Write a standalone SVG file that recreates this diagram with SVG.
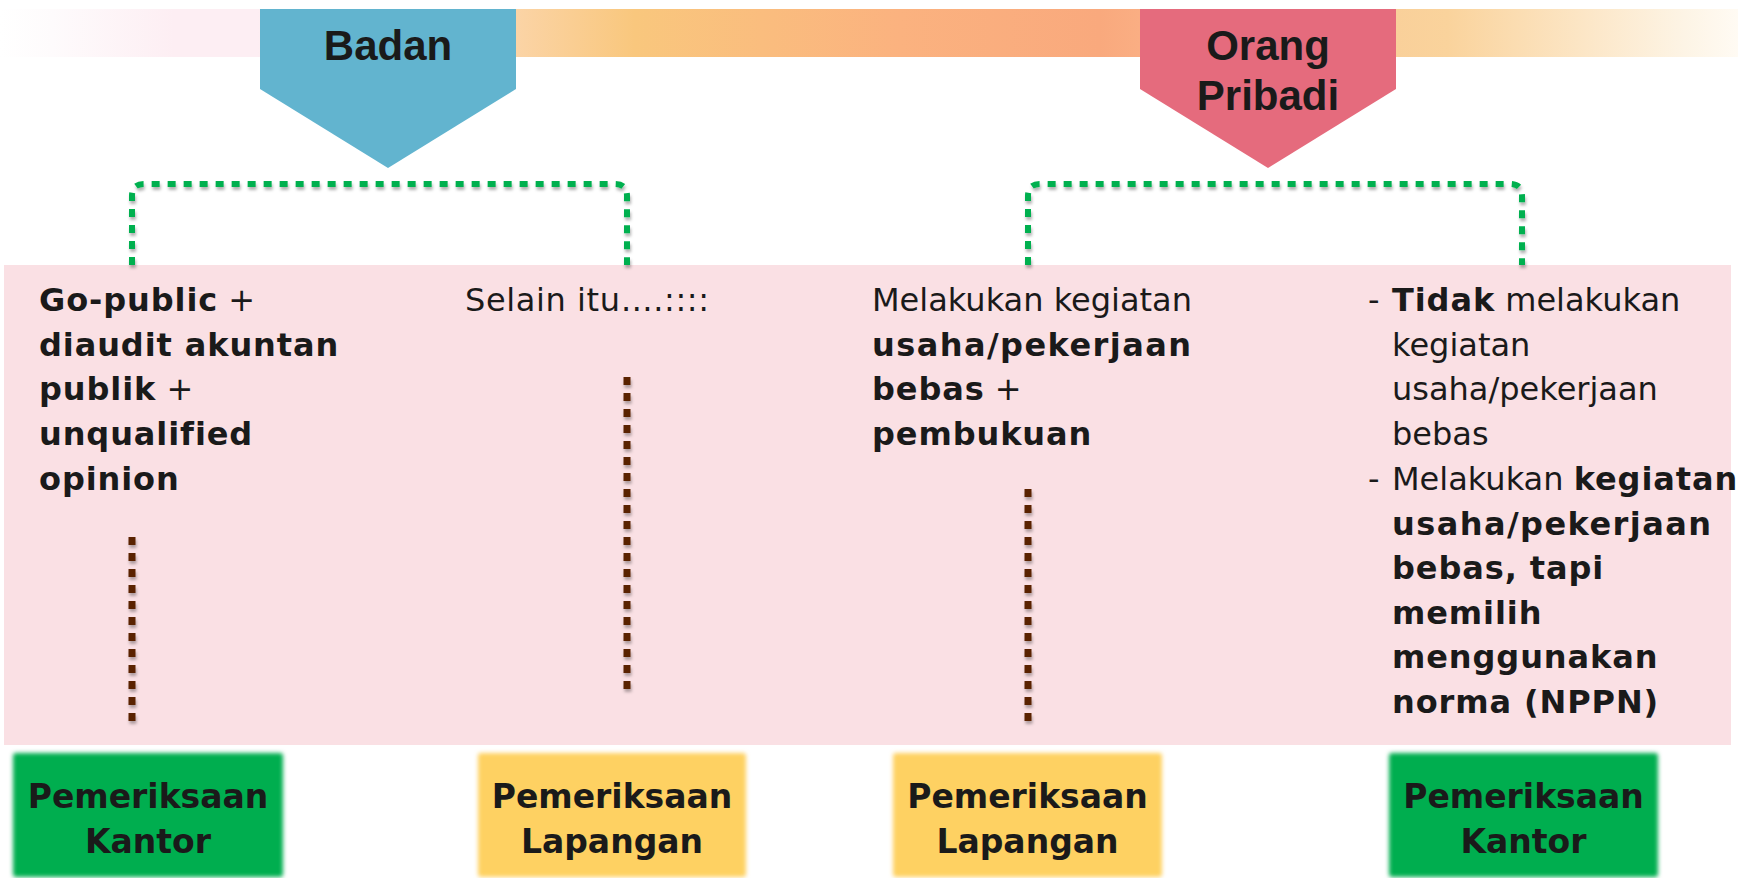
<svg xmlns="http://www.w3.org/2000/svg" width="1752" height="878" viewBox="0 0 1752 878">
  <defs>
    <linearGradient id="barGrad" gradientUnits="userSpaceOnUse" x1="0" y1="0" x2="1740" y2="0">
      <stop offset="0" stop-color="#ffffff"/>
      <stop offset="0.03" stop-color="#fefbfc"/>
      <stop offset="0.1" stop-color="#fdeef3"/>
      <stop offset="0.148" stop-color="#fdeef3"/>
      <stop offset="0.2966" stop-color="#fbd4a6"/>
      <stop offset="0.365" stop-color="#f9c77d"/>
      <stop offset="0.517" stop-color="#fbb27f"/>
      <stop offset="0.632" stop-color="#f9a97d"/>
      <stop offset="0.655" stop-color="#faae83"/>
      <stop offset="0.802" stop-color="#f9d09a"/>
      <stop offset="0.832" stop-color="#fad39c"/>
      <stop offset="0.91" stop-color="#fce6c6"/>
      <stop offset="0.968" stop-color="#fdf4e5"/>
      <stop offset="1" stop-color="#fffbf4"/>
    </linearGradient>
    <!-- user-space region so that straight vertical lines still get a shadow -->
    <filter id="lineShadow" filterUnits="userSpaceOnUse" x="0" y="0" width="1752" height="878">
      <feDropShadow dx="1" dy="3" stdDeviation="1.5" flood-color="#000000" flood-opacity="0.3"/>
    </filter>
    <filter id="softEdge" x="-5%" y="-5%" width="110%" height="110%">
      <feGaussianBlur stdDeviation="2"/>
    </filter>
  </defs>
  <style>
    .title { font-family: "Liberation Sans", Arial, sans-serif; font-weight: bold; font-size: 42px; fill: #1a1a1a; text-anchor: middle; }
    .body { font-family: "DejaVu Sans", Verdana, sans-serif; font-size: 32px; fill: #1a1a1a; }
    .b { font-weight: bold; letter-spacing: 0.9px; }
    .boxText { font-family: "DejaVu Sans", Verdana, sans-serif; font-weight: bold; font-size: 33px; fill: #1a1a1a; text-anchor: middle; }
    .green { stroke: #00b050; stroke-width: 6; fill: none; stroke-dasharray: 8 8; }
    .brown { stroke: #5a2300; stroke-width: 7; fill: none; stroke-dasharray: 8 8; }
    .kantor { fill: #00ae4f; }
    .lapangan { fill: #fed162; }
  </style>

  <!-- header band -->
  <rect id="band" x="0" y="9" width="1738" height="48" fill="url(#barGrad)"/>

  <!-- content panel -->
  <rect id="panel" x="4" y="265" width="1727" height="480" fill="#fae0e4"/>

  <g id="node-badan">
    <polygon points="260,9 516,9 516,89 388,168 260,89" fill="#62b4cf"/>
    <text class="title" x="388" y="60">Badan</text>
  </g>

  <g id="node-orang-pribadi">
    <polygon points="1140,9 1396,9 1396,89 1268,168 1140,89" fill="#e56b7d"/>
    <text class="title" x="1268" y="60">Orang</text>
    <text class="title" x="1268" y="110">Pribadi</text>
  </g>

  <g id="connectors">
    <path class="green" filter="url(#lineShadow)" d="M132,265 V196 Q132,184 144,184 H615 Q627,184 627,196 V265"/>
    <path class="green" filter="url(#lineShadow)" d="M1028,265 V196 Q1028,184 1040,184 H1510 Q1522,184 1522,196 V265"/>
    <line class="brown" filter="url(#lineShadow)" x1="132" y1="537" x2="132" y2="724"/>
    <line class="brown" filter="url(#lineShadow)" x1="627" y1="377" x2="627" y2="690"/>
    <line class="brown" filter="url(#lineShadow)" x1="1028" y1="489" x2="1028" y2="724"/>
  </g>

  <g id="node-criteria-gopublic">
    <text class="body" x="39" y="311"><tspan class="b">Go-public</tspan> +</text>
    <text class="body b" x="39" y="356">diaudit akuntan</text>
    <text class="body" x="39" y="400"><tspan class="b">publik</tspan> +</text>
    <text class="body b" x="39" y="445">unqualified</text>
    <text class="body b" x="39" y="490">opinion</text>
  </g>

  <g id="node-criteria-lainnya">
    <text class="body" x="465" y="311" textLength="244" lengthAdjust="spacing">Selain itu….::::</text>
  </g>

  <g id="node-criteria-pembukuan">
    <text class="body" x="872" y="311">Melakukan kegiatan</text>
    <text class="body b" x="872" y="356" textLength="320" lengthAdjust="spacing">usaha/pekerjaan</text>
    <text class="body" x="872" y="400"><tspan class="b">bebas</tspan> +</text>
    <text class="body b" x="872" y="445">pembukuan</text>
  </g>

  <g id="node-criteria-norma">
    <text class="body" x="1368" y="311">-</text>
    <text class="body" x="1392" y="311"><tspan class="b">Tidak</tspan> melakukan</text>
    <text class="body" x="1392" y="356">kegiatan</text>
    <text class="body" x="1392" y="400">usaha/pekerjaan</text>
    <text class="body" x="1392" y="445">bebas</text>
    <text class="body" x="1368" y="490">-</text>
    <text class="body" x="1392" y="490">Melakukan <tspan class="b">kegiatan</tspan></text>
    <text class="body b" x="1392" y="535" textLength="320" lengthAdjust="spacing">usaha/pekerjaan</text>
    <text class="body b" x="1392" y="579">bebas, tapi</text>
    <text class="body b" x="1392" y="624">memilih</text>
    <text class="body b" x="1392" y="668">menggunakan</text>
    <text class="body b" x="1392" y="713">norma (NPPN)</text>
  </g>

  <g id="node-kantor-badan">
    <rect class="kantor" x="13" y="753" width="270" height="124" rx="3" filter="url(#softEdge)"/>
    <text class="boxText" x="148" y="808">Pemeriksaan</text>
    <text class="boxText" x="148" y="853">Kantor</text>
  </g>

  <g id="node-lapangan-badan">
    <rect class="lapangan" x="478" y="753" width="268" height="124" rx="3" filter="url(#softEdge)"/>
    <text class="boxText" x="612" y="808">Pemeriksaan</text>
    <text class="boxText" x="612" y="853">Lapangan</text>
  </g>

  <g id="node-lapangan-op">
    <rect class="lapangan" x="893" y="753" width="269" height="124" rx="3" filter="url(#softEdge)"/>
    <text class="boxText" x="1027.5" y="808">Pemeriksaan</text>
    <text class="boxText" x="1027.5" y="853">Lapangan</text>
  </g>

  <g id="node-kantor-op">
    <rect class="kantor" x="1389" y="753" width="269" height="124" rx="3" filter="url(#softEdge)"/>
    <text class="boxText" x="1523.5" y="808">Pemeriksaan</text>
    <text class="boxText" x="1523.5" y="853">Kantor</text>
  </g>
</svg>
